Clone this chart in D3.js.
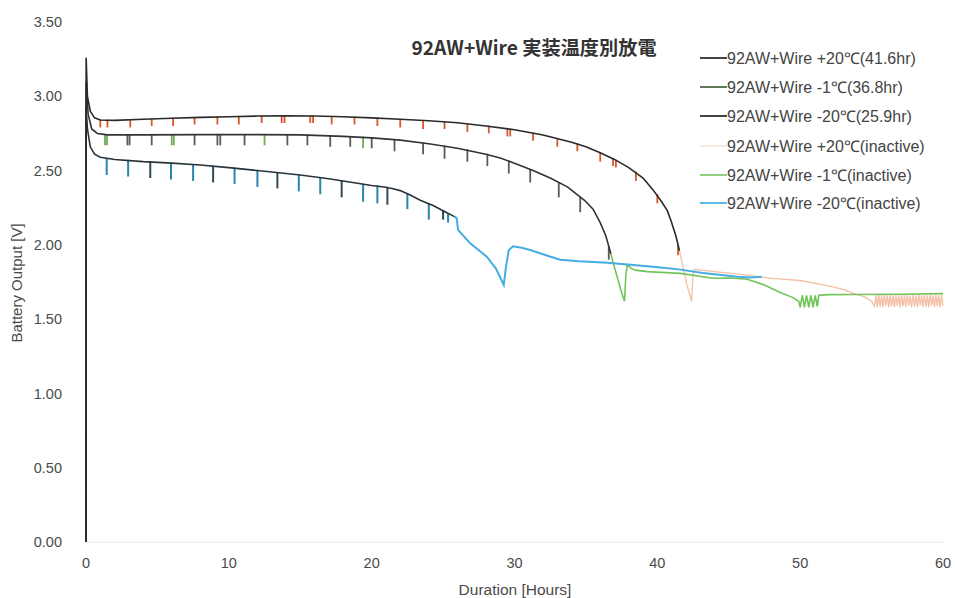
<!DOCTYPE html>
<html><head><meta charset="utf-8">
<script src="https://cdn.jsdelivr.net/npm/d3@7"></script>
<style>body{margin:0;background:#fff}svg{display:block}text{font-family:"Liberation Sans",Arial,sans-serif}</style>
</head><body><svg id="c" width="955" height="598"></svg>
<script>
const xTicks=[0,10,20,30,40,50,60];
const yTicks=[0,0.5,1,1.5,2,2.5,3,3.5];
const titleText="92AW+Wire 実装温度別放電";
const seriesNames=["92AW+Wire +20℃(41.6hr)","92AW+Wire -1℃(36.8hr)","92AW+Wire -20℃(25.9hr)","92AW+Wire +20℃(inactive)","92AW+Wire -1℃(inactive)","92AW+Wire -20℃(inactive)"];
const seriesColors=["#2e2e2e","#4f6e48","#2e2e2e","#f6e6de","#86c874","#4ab2e6"];
// active discharge curves [hours, volts]
const active20=[[0,0],[0.01,3.26],[0.1,3.0],[0.3,2.9],[0.6,2.855],[1,2.84],[2,2.838],[4,2.845],[6,2.852],[8,2.858],[10,2.862],[12,2.867],[14,2.868],[16,2.867],[18,2.862],[20,2.855],[22,2.845],[24,2.835],[26,2.822],[28,2.80],[30,2.775],[32,2.74],[34,2.69],[35,2.66],[36,2.62],[37,2.575],[38,2.52],[39,2.45],[39.7,2.37],[40.3,2.29],[40.7,2.23],[41.0,2.15],[41.3,2.06],[41.55,1.96]];
const active1=[[0,0],[0.01,3.1],[0.15,2.88],[0.4,2.78],[0.8,2.75],[1.5,2.74],[4,2.74],[8,2.742],[12,2.742],[15,2.74],[18,2.73],[20,2.72],[22,2.705],[24,2.68],[26,2.65],[28,2.61],[29,2.585],[30,2.55],[31.3,2.50],[32.5,2.45],[33.7,2.39],[34.9,2.30],[35.5,2.24],[36,2.15],[36.4,2.06],[36.6,1.99],[36.75,1.94]];
const active20n=[[0,0],[0.01,2.92],[0.1,2.78],[0.3,2.66],[0.6,2.61],[1,2.59],[2,2.575],[4,2.56],[6,2.55],[8,2.537],[10,2.52],[12,2.50],[14,2.48],[15,2.47],[17,2.445],[19,2.415],[20,2.40],[21,2.388],[21.5,2.378],[22,2.365],[22.7,2.335],[23.4,2.30],[24.3,2.265],[25.2,2.22],[25.8,2.19]];
// inactive continuations
const inactive20=[[41.55,1.96],[41.8,1.85],[42.1,1.72],[42.4,1.62],[42.5,1.80],[42.6,1.835],[44,1.82],[46,1.80],[48,1.775],[50,1.76],[51.9,1.725],[53,1.70],[53.7,1.675],[54.5,1.65],[55,1.62],[55.2,1.585],[55.3,1.66],[55.4,1.58],[55.5,1.665],[55.6,1.585],[55.7,1.66],[55.8,1.58],[55.9,1.665],[56.0,1.59],[56.1,1.66],[56.2,1.58],[56.3,1.665],[56.4,1.585],[56.5,1.66],[56.6,1.58],[56.7,1.665],[56.8,1.59],[56.9,1.66],[57.0,1.58],[57.1,1.665],[57.2,1.585],[57.3,1.66],[57.4,1.58],[57.5,1.665],[57.6,1.59],[57.7,1.66],[57.8,1.58],[57.9,1.665],[58.0,1.585],[58.1,1.66],[58.2,1.58],[58.3,1.665],[58.4,1.59],[58.5,1.66],[58.6,1.58],[58.7,1.665],[58.8,1.585],[58.9,1.66],[59.0,1.58],[59.1,1.665],[59.2,1.59],[59.3,1.66],[59.4,1.58],[59.5,1.665],[59.6,1.585],[59.7,1.66],[59.8,1.58],[59.9,1.665],[60.0,1.59]];
const inactive1=[[36.75,1.94],[36.85,1.90],[37.2,1.78],[37.5,1.68],[37.7,1.62],[37.8,1.80],[37.9,1.865],[38.2,1.84],[38.45,1.83],[39.3,1.82],[41.6,1.808],[43.9,1.775],[45.1,1.777],[46.3,1.768],[47.5,1.73],[48.6,1.68],[49.5,1.645],[49.9,1.62],[50.0,1.58],[50.15,1.66],[50.3,1.58],[50.45,1.66],[50.6,1.58],[50.75,1.66],[50.9,1.58],[51.05,1.66],[51.2,1.585],[51.3,1.66],[52,1.665],[54,1.666],[57,1.668],[60,1.672]];
const inactive20n=[[25.8,2.19],[25.95,2.18],[26.05,2.10],[26.9,2.01],[28.06,1.92],[28.7,1.84],[29.25,1.73],[29.4,1.85],[29.6,1.965],[29.9,1.99],[30.5,1.98],[31.1,1.965],[32.2,1.93],[33.2,1.90],[34.5,1.89],[36.5,1.88],[39.7,1.853],[41.5,1.835],[43.2,1.81],[45.6,1.785],[46.5,1.78],[47.3,1.785]];
// measurement dips [hours, top volts, bottom volts]
const dips20=[[1.0,2.845,2.79],[1.5,2.843,2.79],[3.1,2.845,2.79],[4.6,2.85,2.80],[6.1,2.856,2.80],[7.6,2.86,2.81],[9.2,2.864,2.81],[10.7,2.866,2.81],[12.3,2.87,2.82],[13.7,2.871,2.82],[13.9,2.871,2.82],[15.7,2.87,2.82],[15.9,2.87,2.82],[17.2,2.867,2.81],[18.8,2.863,2.81],[20.4,2.856,2.80],[22.0,2.848,2.79],[23.6,2.84,2.78],[25.1,2.831,2.78],[26.7,2.818,2.76],[28.2,2.803,2.75],[29.5,2.783,2.73],[29.7,2.781,2.73],[31.3,2.755,2.70],[33.0,2.718,2.66],[34.4,2.683,2.63],[36.0,2.623,2.56],[36.9,2.583,2.53],[37.1,2.573,2.52],[38.5,2.493,2.43],[40.0,2.343,2.28],[41.45,2.0,1.93]];
const dips1=[[1.33,2.745,2.67],[1.47,2.744,2.67],[2.9,2.743,2.67],[3.05,2.743,2.67],[4.6,2.743,2.67],[6.0,2.743,2.67],[6.15,2.743,2.67],[7.6,2.744,2.67],[9.2,2.745,2.67],[9.4,2.745,2.67],[11.1,2.745,2.67],[12.5,2.745,2.67],[14.1,2.744,2.67],[15.5,2.743,2.67],[17.1,2.738,2.66],[18.5,2.733,2.66],[19.4,2.728,2.65],[20.0,2.723,2.65],[21.6,2.711,2.63],[23.6,2.688,2.61],[25.1,2.668,2.58],[26.7,2.643,2.56],[28.1,2.613,2.53],[29.6,2.568,2.48],[31.1,2.508,2.42],[33.1,2.423,2.32],[34.6,2.323,2.22],[36.6,1.99,1.90]];
const dips1Green=[1.33,1.47,6.0,6.15,12.5,19.4];
const dips20n=[[1.45,2.583,2.47],[2.95,2.573,2.46],[4.5,2.561,2.45],[5.95,2.553,2.44],[7.5,2.543,2.43],[8.9,2.533,2.42],[10.4,2.519,2.41],[12.0,2.503,2.39],[13.4,2.49,2.38],[14.9,2.473,2.36],[16.4,2.456,2.34],[17.9,2.433,2.32],[19.4,2.41,2.29],[20.4,2.40,2.28],[21.1,2.389,2.27],[22.5,2.347,2.24],[24.0,2.278,2.17],[25.0,2.233,2.17],[25.35,2.213,2.15]];

const svg=d3.select("#c");
const x=d3.scaleLinear().domain([0,60]).range([86,943]);
const y=d3.scaleLinear().domain([0,3.5]).range([542,22]);
const line=d3.line().x(d=>x(d[0])).y(d=>y(d[1]));

// faint baseline
svg.append("line").attr("x1",x(0)).attr("x2",x(60)).attr("y1",y(0)).attr("y2",y(0)).attr("stroke","#e6e6e6").attr("stroke-width",1);

// y ticks
svg.append("g").selectAll("text").data(yTicks).join("text")
 .attr("x",62).attr("y",d=>y(d)).attr("dy","0.35em").attr("text-anchor","end")
 .attr("font-size",14.5).attr("fill","#4a4a4a").text(d=>d.toFixed(2));
// x ticks
svg.append("g").selectAll("text").data(xTicks).join("text")
 .attr("x",d=>x(d)).attr("y",563).attr("dy","0.35em").attr("text-anchor","middle")
 .attr("font-size",14.5).attr("fill","#4a4a4a").text(d=>d);
// axis titles
svg.append("text").attr("x",515).attr("y",590).attr("dy","0.35em").attr("text-anchor","middle")
 .attr("font-size",15.5).attr("fill","#4a4a4a").text("Duration [Hours]");
svg.append("text").attr("transform","translate(17,283) rotate(-90)").attr("dy","0.35em").attr("text-anchor","middle")
 .attr("font-size",15).attr("fill","#4a4a4a").text("Battery Output [V]");
// title
svg.append("text").attr("x",534).attr("y",48).attr("dy","0.35em").attr("text-anchor","middle")
 .attr("font-size",19.2).attr("font-weight","bold").attr("fill","#333")
 .style("font-family","'Noto Sans CJK JP','Liberation Sans',sans-serif").text(titleText);

// inactive tails
svg.append("path").datum(inactive20).attr("d",line).attr("fill","none").attr("stroke","#f2a888").attr("stroke-width",1.3).attr("opacity",0.75);
svg.append("path").datum(inactive1).attr("d",line).attr("fill","none").attr("stroke","#72c45a").attr("stroke-width",1.6);
svg.append("path").datum(inactive20n).attr("d",line).attr("fill","none").attr("stroke","#44aee4").attr("stroke-width",2);

// dips
function drawDips(data,colorFn,w){
 svg.append("g").selectAll("line").data(data).join("line")
  .attr("x1",d=>x(d[0])).attr("x2",d=>x(d[0])).attr("y1",d=>y(d[1])).attr("y2",d=>y(d[2]))
  .attr("stroke",colorFn).attr("stroke-width",w);
}
drawDips(dips20,()=>"#d8582c",1.8);
drawDips(dips1,d=>dips1Green.includes(d[0])?"#6fae55":"#5a5a5a",1.8);
drawDips(dips20n,(d,i)=>i%3===2?"#2f4a55":"#2a86a8",2);

// active curves
svg.append("path").datum(active20n).attr("d",line).attr("fill","none").attr("stroke","#28343a").attr("stroke-width",1.6);
svg.append("path").datum(active1).attr("d",line).attr("fill","none").attr("stroke","#333").attr("stroke-width",1.6);
svg.append("path").datum(active20).attr("d",line).attr("fill","none").attr("stroke","#2a2a2a").attr("stroke-width",1.6);

// legend
const lg=svg.append("g");
const rowsY=[58,87,116,146,175,203];
seriesNames.forEach((n,i)=>{
 lg.append("line").attr("x1",700).attr("x2",727).attr("y1",rowsY[i]).attr("y2",rowsY[i]).attr("stroke",seriesColors[i]).attr("stroke-width",1.8);
 lg.append("text").attr("x",727).attr("y",rowsY[i]).attr("dy","0.35em").attr("font-size",16).attr("fill","#444").text(n);
});
</script></body></html>
